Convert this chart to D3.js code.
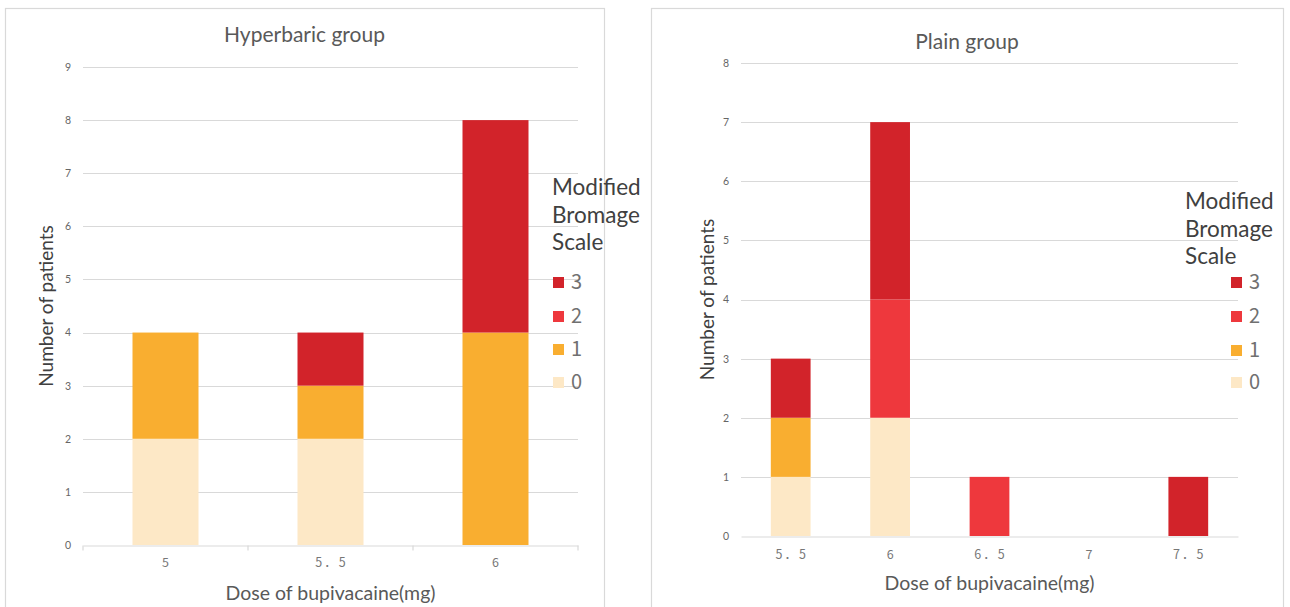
<!DOCTYPE html>
<html>
<head>
<meta charset="utf-8">
<script src="https://cdn.jsdelivr.net/npm/d3@7/dist/d3.min.js"></script>
<style>
  html, body { margin: 0; padding: 0; background: #ffffff; }
  svg { display: block; }
</style>
</head>
<body>
<svg id="chart" width="1290" height="607"></svg>
<script>
// Modified Bromage Scale grades and their colours
const scaleLevels = ["0", "1", "2", "3"];
const levelColors = ["#FDE8C6", "#F9AE30", "#EE383D", "#D2232A"];

// Hyperbaric group: patients per dose, split by grade
const hyperDoses = ["5", "5．5", "6"];
const hyperGrade0 = [2, 2, 0];
const hyperGrade1 = [2, 1, 4];
const hyperGrade2 = [0, 0, 0];
const hyperGrade3 = [0, 1, 4];
const hyperTicks = [0, 1, 2, 3, 4, 5, 6, 7, 8, 9];

// Plain group: patients per dose, split by grade
const plainDoses = ["5．5", "6", "6．5", "7", "7．5"];
const plainGrade0 = [1, 2, 0, 0, 0];
const plainGrade1 = [1, 0, 0, 0, 0];
const plainGrade2 = [0, 2, 1, 0, 0];
const plainGrade3 = [1, 3, 0, 0, 1];
const plainTicks = [0, 1, 2, 3, 4, 5, 6, 7, 8];

const titleText = ["Hyperbaric group", "Plain group"];
const xTitle = "Dose of bupivacaine(mg)";
const yTitle = "Number of patients";
const legendTitle = ["Modified", "Bromage", "Scale"];

const svg = d3.select("#chart");
const gridColor = "#D9D9D9";
const labelFont = "Lato, 'Open Sans', sans-serif";
const cjkFont = "'Noto Sans CJK JP', sans-serif";

function drawPanel(p) {
  const g = svg.append("g");

  // panel frame
  g.append("rect")
    .attr("x", p.frame[0] + 0.5).attr("y", p.frame[1] + 0.5)
    .attr("width", p.frame[2] - p.frame[0]).attr("height", 700)
    .attr("fill", "#fff").attr("stroke", "#D9D9D9").attr("stroke-width", 1.2);

  const x = d3.scaleBand().domain(p.doses).range([p.plot.left, p.plot.right])
    .paddingInner(0.6).paddingOuter(0.3);
  const y = d3.scaleLinear().domain([0, d3.max(p.ticks)]).range([p.plot.bottom, p.plot.top]);

  // horizontal gridlines
  g.append("g").selectAll("line").data(p.ticks.filter(t => t > 0)).join("line")
    .attr("x1", p.plot.left).attr("x2", p.plot.right)
    .attr("y1", d => Math.round(y(d)) + 0.5).attr("y2", d => Math.round(y(d)) + 0.5)
    .attr("stroke", gridColor).attr("stroke-width", 1.2);

  // y tick labels
  const yAxis = g.append("g")
    .attr("transform", `translate(${p.plot.left - 12},0)`)
    .call(d3.axisLeft(y).tickValues(p.ticks).tickFormat(d3.format("d")).tickSize(0).tickPadding(0));
  yAxis.select(".domain").remove();
  yAxis.selectAll("text")
    .attr("font-family", labelFont).attr("font-size", 10.5).attr("fill", "#666");

  // stacked bars
  const rows = p.doses.map((d, i) => {
    const r = { dose: d };
    scaleLevels.forEach((lv, k) => { r[lv] = p.grades[k][i]; });
    return r;
  });
  const stacked = d3.stack().keys(scaleLevels)(rows);
  g.append("g").selectAll("g").data(stacked).join("g")
    .attr("fill", (d, k) => levelColors[k])
    .selectAll("rect").data(d => d.filter(s => s[1] > s[0])).join("rect")
    .attr("x", s => x(s.data.dose))
    .attr("width", x.bandwidth())
    .attr("y", s => y(s[1]))
    .attr("height", s => y(s[0]) - y(s[1]));

  // x axis baseline
  const xAxis = g.append("g")
    .attr("transform", `translate(0,${Math.round(y(0)) + 0.5})`)
    .call(d3.axisBottom(x).tickSize(0).tickPadding(p.xPad));
  xAxis.select(".domain").attr("stroke", gridColor).attr("stroke-width", 1.2);
  xAxis.selectAll("text")
    .attr("font-family", cjkFont).attr("font-size", 12.5).attr("fill", "#777")
    .attr("letter-spacing", "2px").attr("dx", 1);
  if (p.boundaryTicks) {
    const step = x.step();
    const bounds = d3.range(p.doses.length + 1).map(i => p.plot.left + i * step);
    xAxis.selectAll("line.bound").data(bounds).join("line").attr("class", "bound")
      .attr("x1", d => d).attr("x2", d => d).attr("y1", 0).attr("y2", 5)
      .attr("stroke", gridColor).attr("stroke-width", 1.2);
  }

  // titles
  g.append("text").attr("x", (p.frame[0] + p.frame[2]) / 2).attr("y", p.titleY)
    .attr("text-anchor", "middle").attr("font-family", labelFont)
    .attr("font-size", 21).attr("fill", "#595959").text(p.title);
  g.append("text").attr("x", (p.plot.left + p.plot.right) / 2).attr("y", p.xTitleY)
    .attr("text-anchor", "middle").attr("font-family", labelFont)
    .attr("font-size", 19.5).attr("fill", "#595959").text(xTitle);
  g.append("text")
    .attr("transform", `translate(${p.yTitleX},${(p.plot.top + p.plot.bottom) / 2}) rotate(-90)`)
    .attr("text-anchor", "middle").attr("font-family", labelFont)
    .attr("font-size", 19).attr("fill", "#404040").text(yTitle);

  // legend: wrapped heading, then the grade swatches
  const lg = g.append("g");
  lg.selectAll("text.head").data(legendTitle).join("text").attr("class", "head")
    .attr("x", p.legend.x).attr("y", (d, i) => p.legend.headY + i * 27.5)
    .attr("font-family", labelFont).attr("font-size", 22.5).attr("fill", "#404040")
    .text(d => d);
  const items = scaleLevels.slice().reverse();
  const item = lg.selectAll("g.item").data(items).join("g").attr("class", "item")
    .attr("transform", (d, i) => `translate(${p.legend.boxX},${p.legend.itemY[i]})`);
  item.append("rect").attr("x", 0).attr("y", -5).attr("width", 11).attr("height", 11)
    .attr("fill", d => levelColors[+d]);
  item.append("text").attr("x", 18).attr("y", 0).attr("dy", "0.36em")
    .attr("font-family", cjkFont).attr("font-size", 20).attr("fill", "#707070").text(d => d);
}

drawPanel({
  frame: [5, 8, 604],
  plot: { left: 83, right: 578, top: 67, bottom: 545 },
  doses: hyperDoses,
  grades: [hyperGrade0, hyperGrade1, hyperGrade2, hyperGrade3],
  ticks: hyperTicks,
  title: titleText[0],
  titleY: 42,
  xTitleY: 600,
  xPad: 13,
  yTitleX: 53,
  boundaryTicks: true,
  legend: { x: 552, headY: 195, boxX: 553, itemY: [282, 316, 349, 382] }
});

drawPanel({
  frame: [651, 8, 1283],
  plot: { left: 741, right: 1238, top: 63, bottom: 536 },
  doses: plainDoses,
  grades: [plainGrade0, plainGrade1, plainGrade2, plainGrade3],
  ticks: plainTicks,
  title: titleText[1],
  titleY: 49,
  xTitleY: 590,
  xPad: 14,
  yTitleX: 714,
  boundaryTicks: false,
  legend: { x: 1185, headY: 209, boxX: 1231, itemY: [282, 316, 350, 382] }
});
</script>
</body>
</html>
